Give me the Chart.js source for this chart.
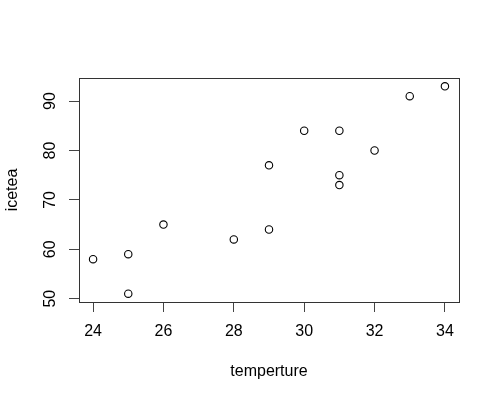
<!DOCTYPE html>
<html>
<head>
<meta charset="utf-8">
<script src="https://cdn.jsdelivr.net/npm/chart.js@4/dist/chart.umd.min.js"></script>
<style>
  html, body { margin: 0; padding: 0; background: #fff; }
  #wrap { width: 500px; height: 400px; }
</style>
</head>
<body>
<div id="wrap"><canvas id="plot" width="500" height="400"></canvas></div>
<script>
// temperature vs iced tea sales
const temperture = [24, 25, 25, 26, 28, 29, 29, 30, 31, 31, 31, 32, 33, 34];
const icetea = [58, 59, 51, 65, 62, 77, 64, 84, 84, 75, 73, 80, 91, 93];

const xTicks = [24, 26, 28, 30, 32, 34];
const yTicks = [50, 60, 70, 80, 90];

const FONT = 'Liberation Sans, Arial, Helvetica, sans-serif';

// box around the plot region + vertical y tick labels, like R's base graphics
const rBox = {
    id: 'rBox',
    afterDraw(chart) {
        const { ctx, chartArea: a } = chart;
        const y = chart.scales.y;
        ctx.save();
        ctx.strokeStyle = '#333';
        ctx.lineWidth = 1;
        ctx.strokeRect(Math.round(a.left) + 0.5, Math.round(a.top) + 0.5,
            Math.round(a.right - a.left), Math.round(a.bottom - a.top));

        ctx.fillStyle = '#000';
        ctx.font = '16px ' + FONT;
        ctx.textAlign = 'center';
        ctx.textBaseline = 'middle';
        y.ticks.forEach(t => {
            const py = y.getPixelForValue(t.value);
            ctx.save();
            ctx.translate(51, py);
            ctx.rotate(-Math.PI / 2);
            ctx.fillText(String(t.value), 0, 0);
            ctx.restore();
        });
        ctx.restore();
    }
};

const ctx = document.getElementById('plot').getContext('2d');
new Chart(ctx, {
    type: 'scatter',
    data: {
        datasets: [{
            data: temperture.map((t, i) => ({ x: t, y: icetea[i] })),
            pointRadius: 3.7,
            pointHoverRadius: 3.7,
            borderWidth: 1.1,
            borderColor: '#000',
            backgroundColor: 'rgba(0,0,0,0)'
        }]
    },
    options: {
        responsive: false,
        animation: false,
        events: [],
        layout: { autoPadding: false, padding: { left: 0, top: 78, right: 41, bottom: 0 } },
        plugins: { legend: { display: false }, tooltip: { enabled: false } },
        scales: {
            x: {
                type: 'linear',
                min: 23.6,
                max: 34.4,
                afterFit: s => { s.height = 98; },
                afterBuildTicks: s => { s.ticks = xTicks.map(v => ({ value: v })); },
                border: { display: false },
                grid: { drawOnChartArea: false, drawTicks: true, tickLength: 10, color: '#444' },
                ticks: { color: '#000', font: { size: 16, family: FONT }, padding: 9.5, maxRotation: 0 },
                title: { display: true, text: 'temperture', color: '#000',
                         font: { size: 16, family: FONT }, padding: { top: 0, bottom: 19 } }
            },
            y: {
                type: 'linear',
                min: 49.32,
                max: 94.68,
                afterFit: s => { s.width = 79; },
                afterBuildTicks: s => { s.ticks = yTicks.map(v => ({ value: v })); },
                border: { display: false },
                grid: { drawOnChartArea: false, drawTicks: true, tickLength: 10, color: '#444' },
                ticks: { display: false },
                title: { display: true, text: 'icetea', color: '#000',
                         font: { size: 16, family: FONT }, padding: { top: 3, bottom: 0 } }
            }
        }
    },
    plugins: [rBox]
});
</script>
</body>
</html>
